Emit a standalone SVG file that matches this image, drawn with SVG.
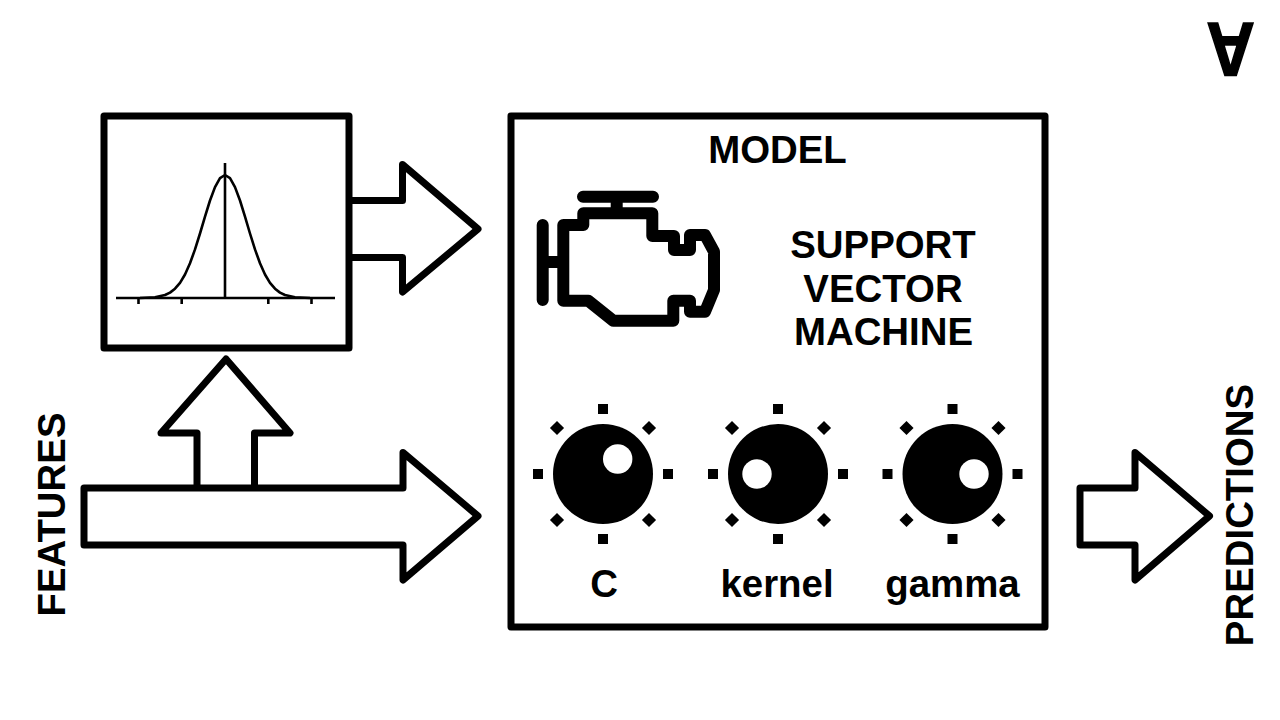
<svg xmlns="http://www.w3.org/2000/svg" xmlns:xlink="http://www.w3.org/1999/xlink" width="1280" height="720" viewBox="0 0 1280 720">
<style>
.o{fill:none;stroke:#000;stroke-width:7;stroke-linejoin:round;stroke-linecap:round}
.a{fill:#fff;stroke:#000;stroke-width:7;stroke-linejoin:round;stroke-linecap:round}
.e{fill:none;stroke:#000;stroke-width:12;stroke-linejoin:round;stroke-linecap:round}
.g{fill:none;stroke:#000;stroke-width:2.600}
text{font-family:"Liberation Sans",Arial,sans-serif;font-weight:700;fill:#000;text-anchor:middle}
.t{font-size:38.400px}
</style>
<defs>
<g id="ticks">
<rect x="-5" y="-70" width="10" height="10"/><rect x="-5" y="60" width="10" height="10"/>
<rect x="-70" y="-5" width="10" height="10"/><rect x="60" y="-5" width="10" height="10"/>
<rect x="-5" y="-5" width="10" height="10" transform="translate(-46,-46) rotate(45)"/>
<rect x="-5" y="-5" width="10" height="10" transform="translate(46,-46) rotate(45)"/>
<rect x="-5" y="-5" width="10" height="10" transform="translate(-46,46) rotate(45)"/>
<rect x="-5" y="-5" width="10" height="10" transform="translate(46,46) rotate(45)"/>
<circle r="50"/>
</g>
</defs>
<rect width="1280" height="720" fill="#fff"/>
<g id="connectors">
<path class="a" d="M197 488V433H161L226 359L290 433H254.500V488"/>
<path class="a" d="M84 488H403V452.500L478 516L403 580V545H84Z"/>
<path class="a" d="M351 200.500H402.500V164.500L478 229L402.500 292V257.500H351"/>
<path class="a" d="M1080 488H1135V452.500L1209.500 516L1135 580V545H1080Z"/>
</g>
<g id="distribution">
<rect class="o" x="104" y="116" width="245" height="232"/>
<path class="g" d="M116 298H335M225 163V298M138.500 298V304M181.700 298V304M268.300 298V304M311.500 298V304"/>
<polyline class="g" stroke-linejoin="round" points="140,298 155,297.200 165,295 170,292.600 175,288.700 180,282.800 185,274.500 190,263.300 195,249.400 200,233.500 205,216.600 210,200.500 215,187.100 220,178.100 225,175 230,178.100 235,187.100 240,200.500 245,216.600 250,233.500 255,249.400 260,263.300 265,274.500 270,282.800 275,288.700 280,292.600 285,295 295,297.200 310,298"/>
</g>
<g id="model">
<rect class="o" x="511" y="116" width="534" height="511"/>
<text class="t" x="777.500" y="163">MODEL</text>
<text class="t" x="883" y="258">SUPPORT</text>
<text class="t" x="883" y="302">VECTOR</text>
<text class="t" x="883.500" y="345">MACHINE</text>
</g>
<g id="engine">
<path class="e" d="M542.700 225V300M543 262H563M583 196.700H653M616.700 196.700V213"/>
<path class="e" d="M583.300 213.300V225H563.300V300.700H588.300L613.300 320.700H673.300V300.700H690V311.700H705L714 290V251.700L705 235H690V250H674V236H652.300V213.300Z"/>
</g>
<g id="knob-c">
<use xlink:href="#ticks" href="#ticks" x="603" y="474"/>
<circle cx="617.700" cy="459" r="14.700" fill="#fff"/>
<text class="t" x="604" y="597">C</text>
</g>
<g id="knob-kernel">
<use xlink:href="#ticks" href="#ticks" x="778" y="474"/>
<circle cx="757" cy="474" r="14.700" fill="#fff"/>
<text class="t" x="777" y="597">kernel</text>
</g>
<g id="knob-gamma">
<use xlink:href="#ticks" href="#ticks" x="952.500" y="474"/>
<circle cx="974" cy="474" r="14.700" fill="#fff"/>
<text class="t" x="952.500" y="597">gamma</text>
</g>
<g id="features"><text class="t" transform="translate(65,514.500) rotate(-90)">FEATURES</text></g>
<g id="predictions"><text class="t" transform="translate(1252.500,515) rotate(-90)">PREDICTIONS</text></g>
<g id="corner"><text transform="translate(1230.500,23) rotate(180) scale(1,1.130)" font-size="67" stroke="#000" stroke-width="1.500">A</text></g>
</svg>
